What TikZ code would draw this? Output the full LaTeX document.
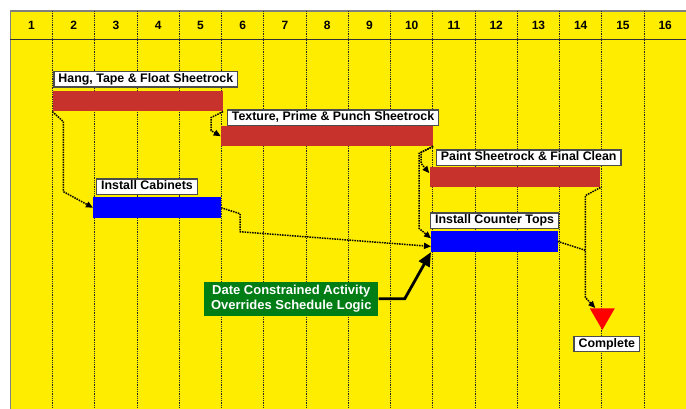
\documentclass[tikz,border=0pt]{standalone}
\usepackage{fontspec}
\setmainfont{Liberation Sans}
\usetikzlibrary{shapes.geometric,arrows.meta,positioning}
\definecolor{chartyellow}{RGB}{255,237,0}
\definecolor{sheetred}{RGB}{200,50,45}
\definecolor{notegreen}{RGB}{0,125,20}
\begin{document}
\begin{tikzpicture}[x=1pt,y=-1pt,
  bar/.style={rectangle,inner sep=0pt,anchor=north west,minimum height=20.5pt},
  task/.style={draw=black!70,line width=1.3pt,fill=white,anchor=north west,inner xsep=4.5pt,inner ysep=2pt,
    text height=9pt,text depth=2.5pt,font=\bfseries\fontsize{12.4}{14}\selectfont},
  link/.style={densely dotted,line width=1.5pt,-{Triangle[length=7pt,width=6pt]}},
  gridline/.style={black!85,densely dotted,line width=0.8pt}]
  \useasboundingbox (0,0) rectangle (686,409);
  \fill[chartyellow] (10.3,11) rectangle (686,409);
  \draw[gray,line width=1.5pt] (10.3,409) -- (10.3,11) -- (686,11);
  \draw[black!80,line width=0.9pt] (10.3,39) -- (686,39);
  \foreach \i in {1,...,15}
    \draw[gridline] ({10.3+42.25*\i},11) -- ({10.3+42.25*\i},409);
  \foreach \i in {1,...,16}
    \node[font=\bfseries\fontsize{12}{14}\selectfont] (c\i) at ({10.3+42.25*(\i-0.5)},25) {\i};
  % bars
  \node[bar,fill=sheetred,minimum width=170.4pt] (hang) at (52.3,90.7) {};
  \node[bar,fill=sheetred,minimum width=212pt,minimum height=20pt] (texture) at (220.7,126) {};
  \node[bar,fill=blue,minimum width=127.7pt] (cabinets) at (93,197.3) {};
  \node[bar,fill=sheetred,minimum width=170.7pt] (paint) at (429.3,166.7) {};
  \node[bar,fill=blue,minimum width=126.3pt,minimum height=21pt] (counter) at (431,230.7) {};
  % labels
  \node[task] (hanglbl) at (53.3,71) {Hang, Tape \& Float Sheetrock};
  \node[task] (texturelbl) at (226.7,109.3) {Texture, Prime \& Punch Sheetrock};
  \node[task] (cabinetslbl) at (96,178.3) {Install Cabinets};
  \node[task] (paintlbl) at (435.7,149.3) {Paint Sheetrock \& Final Clean};
  \node[task] (counterlbl) at (430,212.3) {Install Counter Tops};
  \node[regular polygon,regular polygon sides=3,shape border rotate=180,fill=red,inner sep=0pt,minimum size=29pt] (done) at (602.3,315.5) {};
  \node[task,anchor=center] (donelbl) at (606.8,344) {Complete};
  \node[fill=notegreen,text=white,align=center,font=\bfseries\fontsize{13}{15}\selectfont,
    inner xsep=7pt,inner ysep=3.5pt] (note) at (291.3,298.8) {Date Constrained Activity\\Overrides Schedule Logic};
  % logic links
  \draw[link] (hang.south west) -- ++(11,10) -- ++(0,70) -- (cabinets.west);
  \draw[link] (hang.south east) -- ++(-12,6) -- ++(0,13) -- (texture.west);
  \draw[link] (texture.south east) -- ++(-12,6) -- ++(0,11) -- ([yshift=4pt]paint.west);
  \draw[link] (texture.south east) -- ++(-14,7) -- ++(0,75) -- ([yshift=3pt]counter.west);
  \draw[link] (cabinets.east) -- ++(19,6) -- ++(0,18) -- ([yshift=-5pt]counter.west);
  \draw[link] (paint.south east) -- ++(-15,8) -- ++(0,102) -- ([xshift=-7pt]done.north);
  \draw[densely dotted,line width=1.5pt] (counter.east) -- ++(28,9);
  \draw[line width=2.8pt,-{Triangle[length=14pt,width=12pt]}] (note.east) -- ++(26,0) -- (counter.south west);
\end{tikzpicture}
\end{document}
